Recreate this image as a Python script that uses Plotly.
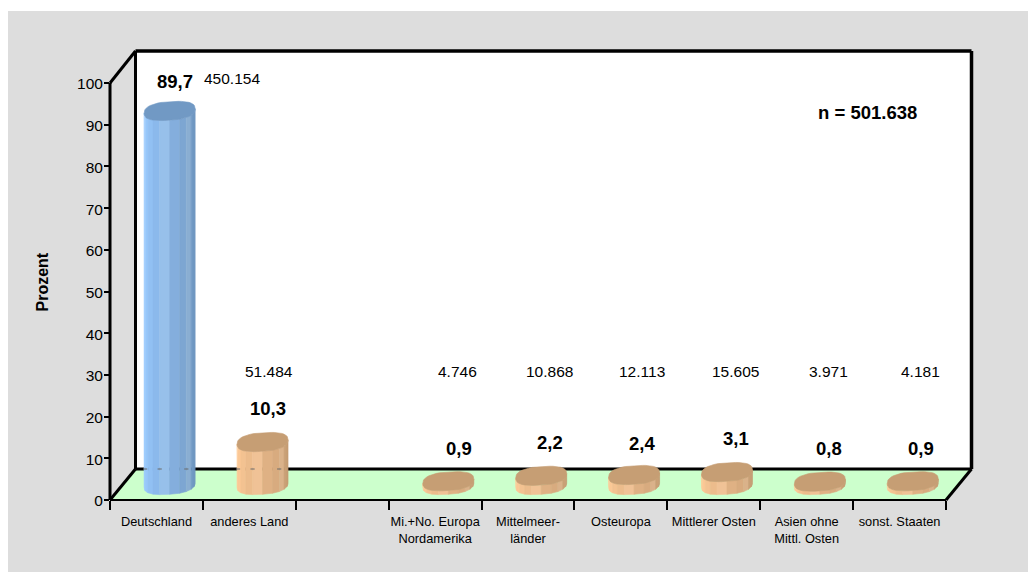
import math
import plotly.graph_objects as go

# Survey results by country of origin
categories = ["Deutschland", "anderes Land", "", "Mi.+No. Europa<br>Nordamerika",
              "Mittelmeer-<br>länder", "Osteuropa", "Mittlerer Osten",
              "Asien ohne<br>Mittl. Osten", "sonst. Staaten"]
percent = [89.7, 10.3, None, 0.9, 2.2, 2.4, 3.1, 0.8, 0.9]
counts = ["450.154", "51.484", None, "4.746", "10.868", "12.113", "15.605", "3.971", "4.181"]
percent_text = ["89,7", "10,3", None, "0,9", "2,2", "2,4", "3,1", "0,8", "0,9"]
y_ticks = list(range(0, 101, 10))
total_label = "n = 501.638"

# Plot geometry in pixels
W, H = 1028, 572
X0, Y0 = 110, 500          # front-left corner of the floor
PX_PER_CAT = 92.89
PX_PER_PCT = 4.17
DEPTH_X, DEPTH_Y = 25.5, 31
PLOT_TOP, PLOT_RIGHT = 40, 985
FRONT_X1 = X0 + 9 * PX_PER_CAT

BLUE = ["#9ccdff", "#97c7fa", "#91c0f3", "#8bb9ec", "#97c0ea", "#84aedd", "#7da6d2", "#8aaed2", "#7199c4", "#6d94bf"]
ORANGE = ["#ffcc99", "#fbc896", "#f3c291", "#ecbc8c", "#f0c296", "#dfb184", "#d8ab7f", "#dab28a", "#c9a076", "#c49b72"]
BLUE_TOP, ORANGE_TOP = "#7199c4", "#c69e74"


def data_x(px):
    return (px - X0) / PX_PER_CAT - 0.5


def data_y(py):
    return (Y0 - py) / PX_PER_PCT


def paper_x(px):
    return (px - X0) / (PLOT_RIGHT - X0)


def paper_y(py):
    return (Y0 - py) / (Y0 - PLOT_TOP)


RADIUS = 25.5 / PX_PER_CAT
TILT = 9.3 / PX_PER_PCT    # half height of the elliptical caps
SHEAR = 2.2 / PX_PER_PCT   # caps lean upwards to the right
FLOOR_MID = 15 / PX_PER_PCT
CENTER_SHIFT = 13.2 / PX_PER_CAT
ROUNDNESS = 0.8            # below 1 gives a slightly fuller ellipse


def soft(v):
    return math.copysign(abs(v) ** ROUNDNESS, v)


def arc(cx, cy, t0, t1, n):
    pts = [t0 + (t1 - t0) * i / n for i in range(n + 1)]
    return ([cx + RADIUS * soft(math.cos(t)) for t in pts],
            [cy + TILT * soft(math.sin(t)) + SHEAR * math.cos(t) for t in pts])


fig = go.Figure()

# Cylinders: facets from the lower arc of the base to the lower arc of the cap
facet_edges = []
for i, value in enumerate(percent):
    if value is None:
        continue
    cx = i + CENTER_SHIFT
    top = FLOOR_MID + value
    palette = BLUE if i == 0 else ORANGE
    n = len(palette)
    for f in range(n):
        t0 = math.pi + math.pi * f / n
        t1 = math.pi + math.pi * (f + 1) / n
        bx, by = arc(cx, FLOOR_MID, t0, t1, 4)
        tx, ty = arc(cx, top, t1, t0, 4)
        fig.add_trace(go.Scatter(x=bx + tx + bx[:1], y=by + ty + by[:1], mode="lines",
                                 fill="toself", fillcolor=palette[f],
                                 line=dict(width=0.6, color=palette[f]), hoverinfo="skip"))
        if value > 5 and f % 3 == 1:
            facet_edges.append(bx[0])
    cap_x, cap_y = arc(cx, top, 0, 2 * math.pi, 48)
    cap_color = BLUE_TOP if i == 0 else ORANGE_TOP
    fig.add_trace(go.Scatter(x=cap_x, y=cap_y, mode="lines", fill="toself", fillcolor=cap_color,
                             line=dict(width=0.6, color=cap_color), hoverinfo="skip"))

# The rear floor edge shows through the tall cylinders as faint ticks
fig.add_trace(go.Scatter(x=facet_edges, y=[data_y(Y0 - DEPTH_Y)] * len(facet_edges), mode="markers",
                         marker=dict(symbol="line-ew", size=3, line=dict(width=1, color="#6b6b6b")),
                         hoverinfo="skip"))


def seg(x0, y0, x1, y1, width):
    return dict(type="line", xref="paper", yref="paper", x0=paper_x(x0), y0=paper_y(y0),
                x1=paper_x(x1), y1=paper_y(y1), line=dict(color="black", width=width), layer="below")


def poly(points, color):
    path = "M" + "L".join(f"{paper_x(a):.5f},{paper_y(b):.5f}" for a, b in points) + "Z"
    return dict(type="path", xref="paper", yref="paper", path=path, fillcolor=color,
                line=dict(width=0), layer="below")


back_l, back_r = X0 + DEPTH_X, FRONT_X1 + DEPTH_X
back_b, back_t = Y0 - DEPTH_Y, 51
shapes = [
    poly([(8, 11), (W, 11), (W, H), (8, H)], "#dddddd"),
    poly([(back_l, back_t), (back_r, back_t), (back_r, back_b), (back_l, back_b)], "#ffffff"),
    poly([(X0, Y0), (back_l, back_b), (back_r, back_b), (FRONT_X1, Y0)], "#ccffcc"),
    seg(back_l, back_t, back_r, back_t, 3.5),
    seg(back_l, back_t, back_l, back_b, 3),
    seg(back_r, back_t, back_r, back_b, 3.5),
    seg(back_l, back_b, back_r, back_b, 3),
    seg(X0, Y0, back_l, back_b, 3),
    seg(FRONT_X1, Y0, back_r, back_b, 3),
    seg(X0, 83, back_l, back_t, 3),
    seg(X0, 83, X0, Y0, 3),
    seg(X0, Y0, FRONT_X1, Y0, 2.2),
]

# Per-label pixel nudges, so the numbers clear the cylinder caps
pct_dx = [18.5, 18.5, 0, 23.5, 21.5, 21, 22, 22, 21.5]
pct_dy = [29, 34, 0, 33, 33, 31, 34, 33, 33]
count_dx = [76, 20, 0, 22.5, 21.6, 20.7, 22, 22, 21]
annotations = []
for i, value in enumerate(percent):
    if value is None:
        continue
    annotations.append(dict(x=i, y=FLOOR_MID + value, xref="x", yref="y", text=percent_text[i],
                            showarrow=False, xshift=pct_dx[i], yshift=pct_dy[i],
                            font=dict(size=18.5, color="black", family="Liberation Sans", weight="bold")))
    annotations.append(dict(x=i, y=101 if i == 0 else 30.7, xref="x", yref="y", text=counts[i],
                            showarrow=False, xshift=count_dx[i],
                            font=dict(size=15.5, color="black", family="Liberation Sans")))
annotations.append(dict(x=paper_x(867), y=paper_y(112), xref="paper", yref="paper", text=total_label,
                        xanchor="center", yanchor="middle", showarrow=False,
                        font=dict(size=18.5, color="black", family="Liberation Sans", weight="bold")))
annotations.append(dict(x=paper_x(41.5), y=paper_y(282), xref="paper", yref="paper", text="Prozent",
                        xanchor="center", yanchor="middle", textangle=-90, showarrow=False,
                        font=dict(size=16, color="black", family="Liberation Sans", weight="bold")))

x_range = [-0.5, data_x(PLOT_RIGHT)]
fig.update_layout(
    width=W, height=H,
    margin=dict(l=X0, r=W - PLOT_RIGHT, t=PLOT_TOP, b=H - Y0, pad=0),
    paper_bgcolor="white", plot_bgcolor="rgba(0,0,0,0)",
    showlegend=False, shapes=shapes, annotations=annotations,
    font=dict(family="Liberation Sans", color="black"),
    xaxis=dict(range=x_range, tickmode="array", tickvals=[k - 0.5 for k in range(10)], ticktext=[""] * 10,
               ticks="outside", ticklen=9, tickwidth=1.5, tickcolor="black",
               showgrid=False, zeroline=False, showline=False, fixedrange=True),
    xaxis2=dict(range=x_range, overlaying="x", side="bottom", anchor="y", tickmode="array",
                tickvals=list(range(9)), ticktext=categories, ticks="outside", ticklen=10,
                tickcolor="rgba(0,0,0,0)", tickfont=dict(size=12.8, family="Liberation Sans"),
                tickangle=0, showgrid=False, zeroline=False, showline=False, fixedrange=True),
    yaxis=dict(range=[0, data_y(PLOT_TOP)], tickmode="array", tickvals=y_ticks, ticktext=[str(v) for v in y_ticks],
               ticks="outside", ticklen=5, tickwidth=1.5, tickcolor="black",
               tickfont=dict(size=15.5, family="Liberation Sans"), ticklabelstandoff=-2, ticklabelshift=1,
               showgrid=False, zeroline=False, showline=False, fixedrange=True),
)
# An empty trace keeps the label axis on the figure
fig.add_trace(go.Scatter(x=[0], y=[None], xaxis="x2", yaxis="y", hoverinfo="skip"))

fig.write_html("out.html", config=dict(displayModeBar=False))
